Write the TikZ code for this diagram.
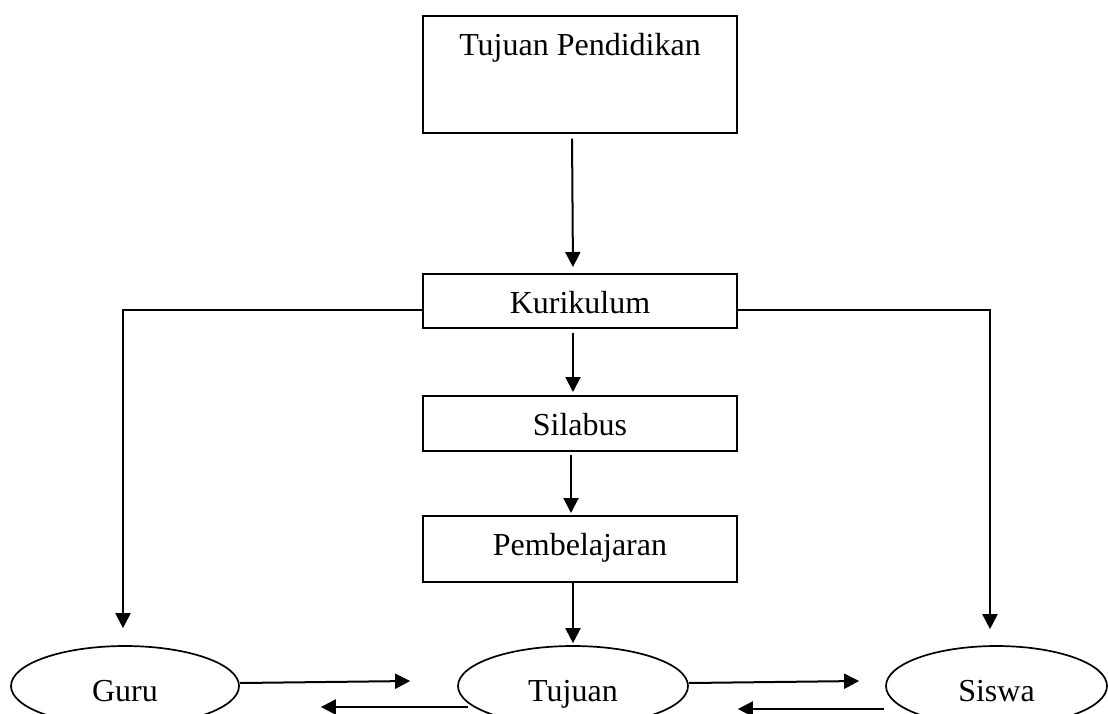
\documentclass[tikz,border=0pt]{standalone}
\usepackage{fontspec}
\setmainfont{Liberation Serif}
\usetikzlibrary{arrows.meta}
\usetikzlibrary{shapes.geometric}

\begin{document}
\begin{tikzpicture}[x=1pt,y=-1pt,font=\fontsize{32}{38}\selectfont,
  box/.style={draw,line width=1.7pt,rectangle,minimum width=314pt,inner xsep=0pt,inner ysep=0pt,text height=40pt,anchor=north},
  oval/.style={draw,line width=1.7pt,ellipse,minimum height=80pt,inner sep=0pt,text height=30pt,text depth=0pt},
  arr/.style={line width=2pt,-{Triangle[length=\l, width=\w]}}]
\def\l{15pt}
\def\w{15pt}
\useasboundingbox (0,0) rectangle (1108,713);
%\draw[red] (0,0) rectangle (1108,713);
\node [box, text depth=77pt, name=tp]       at (580,15) {Tujuan Pendidikan};
\node [box, text depth=14pt, name=kur]      at (580,273) {Kurikulum};
\node [box, text depth=15pt, name=sil]      at (580,395) {Silabus};
\node [box, text depth=26pt, name=pem]      at (580,515) {Pembelajaran};
\node [oval, minimum width=228pt, name=guru]  at (125,686) {Guru};
\node [oval, minimum width=230pt, name=tuj]   at (573,686) {Tujuan};
\node [oval, minimum width=221pt, name=siswa] at (996.5,686) {Siswa};
\draw [arr, shorten <=5pt, shorten >=6pt]([xshift=-8pt]tp.south) -- ([xshift=-7pt]kur.north);
\draw [arr, shorten <=4pt, shorten >=3pt]([xshift=-7pt]kur.south) -- ([xshift=-7pt]sil.north);
\draw [arr, shorten <=3pt, shorten >=2pt]([xshift=-9pt]sil.south) -- ([xshift=-9pt]pem.north);
\draw [arr, shorten >=2pt]([xshift=-7pt]pem.south) -- (tuj.north);
\draw [arr, shorten >=17pt]([yshift=-9pt]kur.west) -| ([xshift=-2pt]guru.north);
\draw [arr, shorten >=16pt]([yshift=-9pt]kur.east) -| ([xshift=-6.5pt]siswa.north);
\draw [arr]([yshift=3pt]guru.east) -- ([xshift=-47pt,yshift=5pt]tuj.west);
\draw [arr]([xshift=11pt,yshift=-21pt]tuj.west) -- ([xshift=81pt,yshift=-21pt]guru.east);
\draw [arr]([yshift=3pt]tuj.east) -- ([xshift=-26pt,yshift=5pt]siswa.west);
\draw [arr]([xshift=-1pt,yshift=-23pt]siswa.west) -- ([xshift=49pt,yshift=-23pt]tuj.east);
\end{tikzpicture}
\end{document}
